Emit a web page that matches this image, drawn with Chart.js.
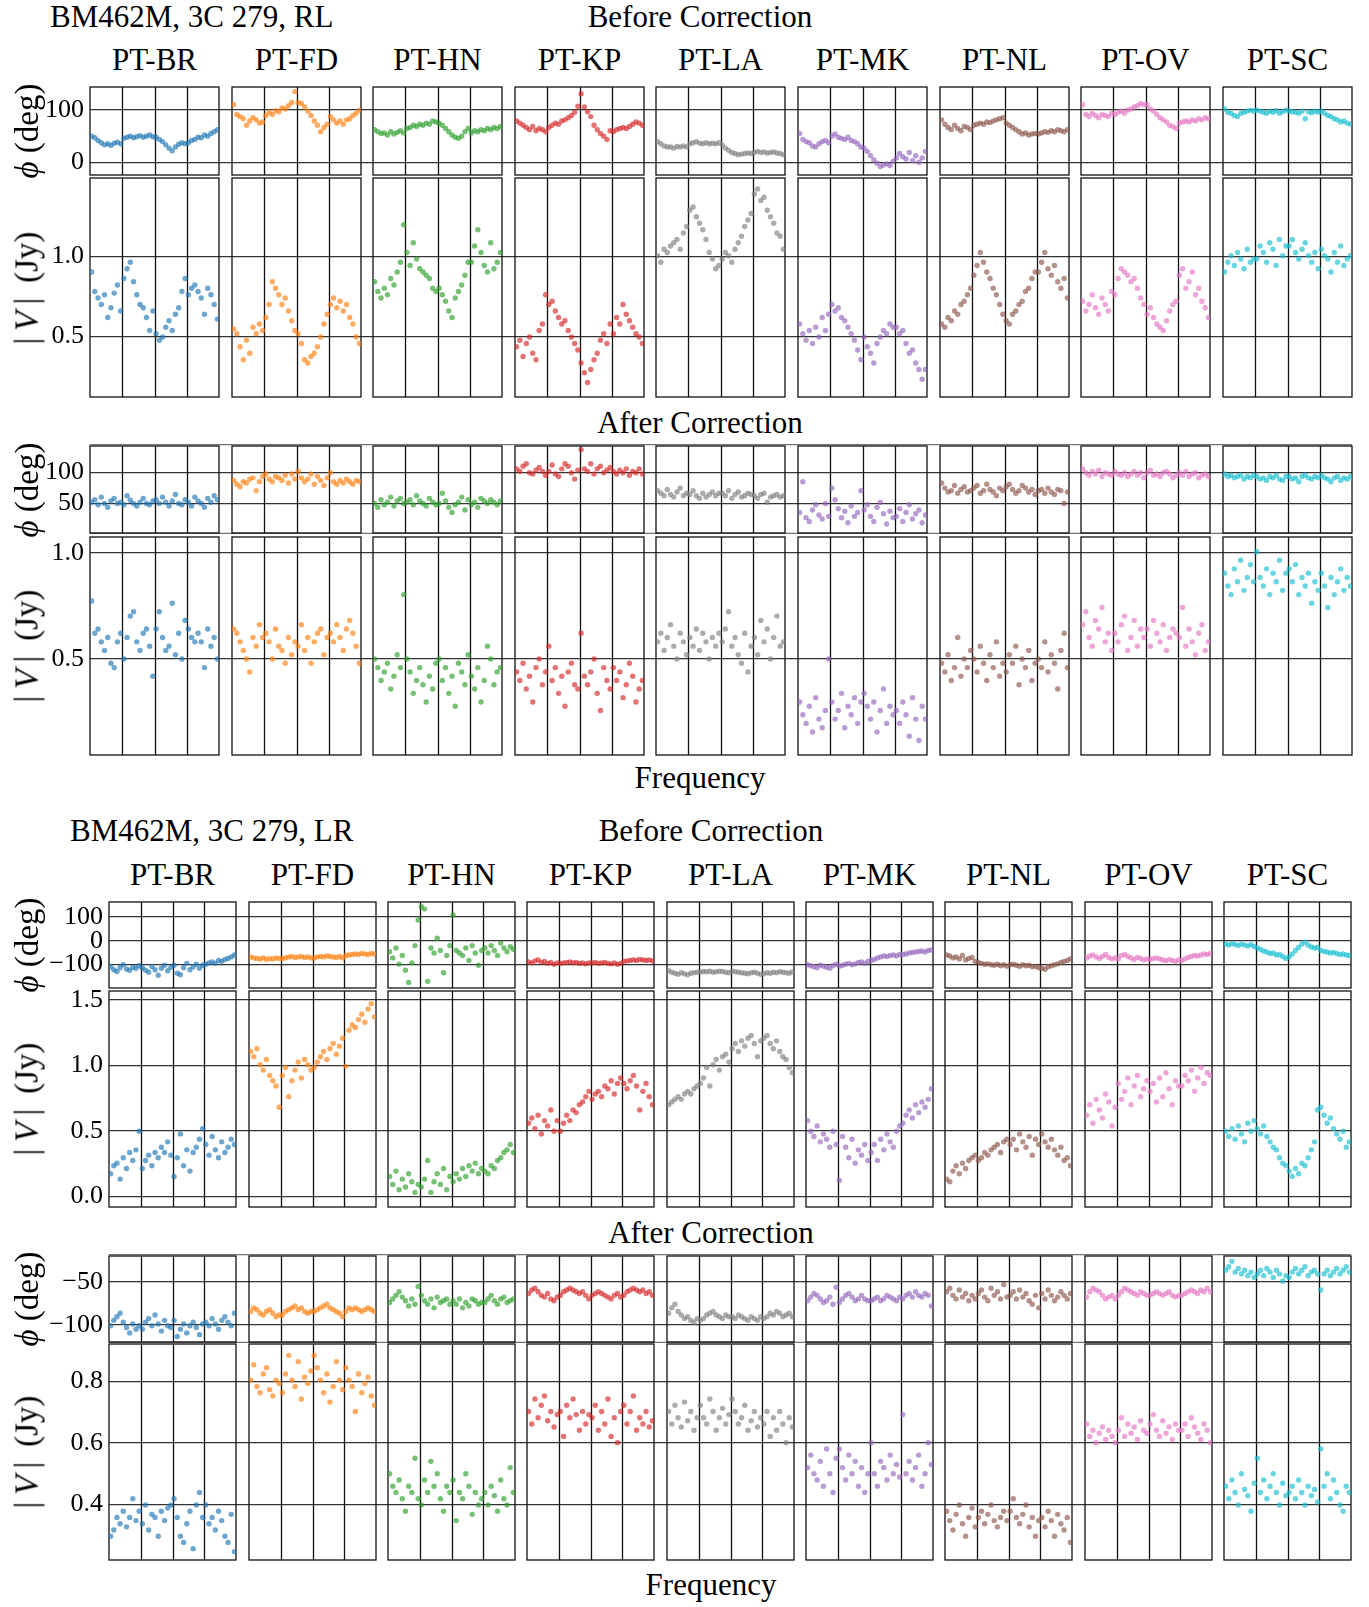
<!DOCTYPE html>
<html lang="en">
<head>
<meta charset="UTF-8">
<title>BM462M, 3C 279 - before and after correction</title>
<style>
  html, body { margin: 0; padding: 0; background: #fff; }
  body { width: 1369px; height: 1607px; position: relative; overflow: hidden;
         font-family: "Liberation Serif", "DejaVu Serif", serif; color: #000; }
  canvas { position: absolute; }
  .txt { position: absolute; font-family: "Liberation Serif", "DejaVu Serif", serif;
         font-size: 31px; line-height: 1; white-space: nowrap; }
  .ylab { position: absolute; font-family: "Liberation Serif", "DejaVu Serif", serif;
          font-size: 33px; line-height: 1; white-space: nowrap;
          transform: translate(-50%, -50%) rotate(-90deg); }
</style>
</head>
<body>
<script src="https://cdn.jsdelivr.net/npm/chart.js"></script>
<script>
const stations = ['PT-BR', 'PT-FD', 'PT-HN', 'PT-KP', 'PT-LA', 'PT-MK', 'PT-NL', 'PT-OV', 'PT-SC'];
const colors = ['rgba(31,119,180,0.65)', 'rgba(255,127,14,0.65)', 'rgba(44,160,44,0.65)',
                'rgba(214,39,40,0.65)', 'rgba(127,127,127,0.65)', 'rgba(148,103,189,0.65)',
                'rgba(140,86,75,0.65)', 'rgba(227,119,194,0.65)', 'rgba(23,190,207,0.65)'];
const ifCount = 4, chanPerIF = 10;

// ---- RL, before correction (one array per station, 4 IFs x 10 channels)
const rlBeforePhase = [
  [50,47,42,38,34,36,33,37,39,36, 46,48,50,47,49,51,48,50,52,49, 48,44,40,34,28,23,30,35,38,36, 38,42,44,48,47,52,50,55,58,62],
  [108,90,86,82,70,78,84,80,74,76, 88,94,90,97,95,102,100,106,112,132, 112,110,104,96,88,78,70,58,66,72, 86,80,74,78,72,80,82,88,92,98],
  [62,58,55,56,52,58,54,57,60,56, 64,66,70,68,72,70,74,72,78,76, 74,70,64,58,52,48,46,50,58,64, 56,60,58,62,60,64,62,66,64,68],
  [78,74,70,66,62,68,60,64,62,58, 66,70,74,72,78,80,84,88,94,105, 128,104,95,86,70,62,55,50,44,60, 58,62,64,66,64,68,72,76,74,70],
  [40,36,32,30,30,28,31,30,32,30, 36,38,40,37,36,38,36,37,36,38, 34,28,24,20,18,16,17,18,19,18, 20,22,20,21,19,20,21,19,18,16],
  [55,44,40,38,32,30,36,40,42,38, 50,54,48,46,44,48,42,40,36,30, 28,22,14,6,0,-6,-3,-1,-4,4, 10,18,12,8,20,5,14,2,10,22],
  [80,72,66,62,70,64,60,68,66,62, 70,72,74,72,76,75,78,80,82,84, 74,70,66,62,58,54,56,52,54,55, 54,56,58,57,60,58,62,60,58,62],
  [108,90,86,92,88,84,90,88,86,92, 90,94,96,92,98,100,104,106,110,108, 108,100,96,90,84,80,76,70,68,64, 74,76,78,76,80,78,82,80,84,82],
  [100,94,92,88,86,92,94,96,98,96, 98,96,94,92,96,94,97,92,95,98, 96,95,94,92,96,82,95,93,96,94, 96,92,88,86,82,80,76,78,74,72]
];
const rlBeforeAmp = [
  [0.90,0.78,0.74,0.70,0.76,0.62,0.68,0.77,0.82,0.66, 0.86,0.92,0.96,0.84,0.76,0.70,0.68,0.62,0.54,0.66, 0.52,0.48,0.50,0.56,0.60,0.54,0.64,0.68,0.78,0.86, 0.76,0.80,0.82,0.78,0.74,0.64,0.80,0.76,0.70,0.61],
  [0.55,0.52,0.44,0.36,0.48,0.40,0.56,0.52,0.58,0.54, 0.62,0.70,0.84,0.80,0.76,0.70,0.74,0.66,0.60,0.54, 0.52,0.46,0.36,0.34,0.38,0.40,0.44,0.50,0.58,0.64, 0.70,0.74,0.68,0.72,0.66,0.70,0.62,0.58,0.50,0.46],
  [0.84,0.78,0.74,0.80,0.76,0.86,0.82,0.90,0.96,1.19, 1.02,0.94,1.08,0.98,0.92,0.90,0.88,0.86,0.80,0.78, 0.80,0.76,0.72,0.66,0.62,0.74,0.78,0.82,0.88,0.96, 0.96,1.06,1.16,1.02,0.94,0.90,1.08,0.92,0.96,1.02],
  [0.44,0.48,0.38,0.46,0.50,0.40,0.36,0.54,0.58,0.76, 0.70,0.72,0.66,0.62,0.58,0.60,0.54,0.50,0.46,0.42, 0.34,0.28,0.22,0.30,0.36,0.40,0.48,0.52,0.46,0.58, 0.52,0.62,0.58,0.70,0.64,0.60,0.56,0.52,0.50,0.46],
  [1.00,0.96,1.04,1.02,1.06,1.08,1.10,1.04,1.14,1.18, 1.28,1.30,1.24,1.20,1.16,1.10,1.02,0.98,0.92,0.94, 0.98,1.02,1.00,0.96,1.04,1.08,1.12,1.18,1.22,1.26, 1.38,1.41,1.34,1.36,1.28,1.24,1.20,1.14,1.12,1.04],
  [0.58,0.52,0.48,0.54,0.46,0.56,0.50,0.62,0.54,0.64, 0.70,0.66,0.68,0.62,0.60,0.56,0.52,0.48,0.42,0.36, 0.50,0.44,0.40,0.34,0.46,0.50,0.54,0.52,0.58,0.56, 0.56,0.52,0.54,0.46,0.40,0.42,0.34,0.30,0.24,0.30],
  [0.58,0.56,0.62,0.60,0.66,0.64,0.70,0.72,0.76,0.80, 0.88,0.94,1.02,0.96,0.90,0.86,0.80,0.76,0.70,0.64, 0.60,0.58,0.64,0.66,0.70,0.72,0.78,0.80,0.86,0.90, 0.90,0.96,1.02,0.92,0.88,0.94,0.84,0.80,0.86,0.74],
  [0.72,0.66,0.70,0.76,0.68,0.64,0.74,0.70,0.66,0.78, 0.76,0.86,0.92,0.90,0.88,0.84,0.86,0.80,0.74,0.70, 0.64,0.68,0.62,0.58,0.56,0.54,0.60,0.66,0.70,0.72, 0.88,0.92,0.80,0.84,0.90,0.76,0.80,0.72,0.68,0.62],
  [0.90,0.96,1.00,0.94,1.02,0.98,0.92,1.04,0.96,0.98, 0.98,1.06,1.02,0.96,1.08,1.04,0.94,1.10,1.00,1.06, 1.06,1.10,1.02,0.98,1.04,1.08,1.00,0.96,1.02,0.92, 1.04,1.00,0.98,0.90,1.02,0.96,1.06,0.94,0.98,1.00]
];

// ---- RL, after correction
const rlAfterPhase = [
  [52,56,48,60,50,44,54,58,50,52, 48,62,55,50,46,52,58,50,48,54, 56,50,60,52,46,54,64,50,48,56, 52,46,60,54,50,44,58,52,62,56],
  [86,80,76,84,82,88,90,70,84,92, 96,88,84,92,90,86,94,82,96,88, 100,90,84,88,96,80,92,86,78,90, 98,84,80,86,82,88,84,80,86,84],
  [50,44,56,48,52,60,46,54,58,50, 52,56,48,62,54,50,46,58,52,48, 50,66,54,44,36,48,52,60,40,56, 48,52,44,58,54,50,56,52,48,54],
  [104,100,108,112,98,96,102,106,100,94, 100,110,96,92,104,112,108,98,88,102, 134,104,100,112,96,104,108,98,102,106, 100,96,102,98,104,94,100,98,104,96],
  [70,66,62,72,64,60,68,74,62,66, 64,70,62,58,66,60,64,68,62,66, 66,62,70,58,64,68,60,62,66,64, 62,58,64,66,52,60,62,64,60,62],
  [36,84,28,22,40,48,32,26,50,30, 74,56,42,28,38,20,46,30,36,70, 40,48,30,22,44,52,34,18,38,28, 30,42,22,36,48,26,34,40,20,32],
  [82,74,68,70,78,66,72,76,68,70, 74,78,66,70,80,72,68,62,74,70, 76,80,72,66,70,78,74,68,72,64, 70,72,66,74,68,64,72,70,50,68],
  [104,98,94,100,96,102,92,98,96,94, 100,96,94,98,92,96,100,94,98,90, 98,102,94,96,92,98,100,96,90,94, 98,94,100,92,96,98,90,94,96,92],
  [96,92,94,90,92,94,88,92,90,94, 92,88,90,86,92,90,94,88,86,92, 92,88,90,84,92,94,90,88,92,90, 94,90,88,84,90,92,86,90,88,92]
];
const rlAfterAmp = [
  [0.77,0.62,0.64,0.58,0.54,0.60,0.48,0.46,0.58,0.62, 0.50,0.60,0.70,0.72,0.58,0.54,0.62,0.64,0.56,0.42, 0.64,0.72,0.60,0.54,0.56,0.76,0.52,0.62,0.50,0.68, 0.64,0.60,0.58,0.62,0.58,0.46,0.64,0.56,0.60,0.50],
  [0.64,0.62,0.58,0.54,0.50,0.44,0.60,0.56,0.66,0.60, 0.62,0.58,0.50,0.64,0.56,0.54,0.48,0.60,0.52,0.58, 0.56,0.66,0.54,0.60,0.48,0.58,0.62,0.64,0.52,0.60, 0.62,0.58,0.66,0.60,0.54,0.64,0.68,0.62,0.56,0.48],
  [0.50,0.46,0.40,0.44,0.48,0.36,0.42,0.52,0.46,0.80, 0.50,0.44,0.34,0.40,0.46,0.38,0.30,0.42,0.36,0.48, 0.50,0.40,0.46,0.34,0.42,0.28,0.48,0.44,0.38,0.52, 0.42,0.36,0.46,0.30,0.40,0.56,0.50,0.38,0.44,0.46],
  [0.44,0.40,0.48,0.36,0.42,0.30,0.46,0.50,0.38,0.44, 0.56,0.40,0.46,0.34,0.42,0.28,0.44,0.48,0.38,0.36, 0.62,0.42,0.38,0.44,0.50,0.34,0.26,0.46,0.40,0.36, 0.46,0.40,0.44,0.32,0.38,0.48,0.42,0.30,0.36,0.40],
  [0.58,0.62,0.54,0.60,0.66,0.56,0.50,0.62,0.58,0.52, 0.60,0.56,0.64,0.54,0.62,0.58,0.50,0.60,0.56,0.62, 0.58,0.64,0.72,0.56,0.60,0.52,0.48,0.62,0.44,0.56, 0.60,0.52,0.68,0.58,0.64,0.50,0.60,0.70,0.56,0.58],
  [0.30,0.24,0.20,0.28,0.16,0.32,0.22,0.18,0.26,0.50, 0.30,0.22,0.26,0.34,0.18,0.28,0.24,0.32,0.20,0.30, 0.34,0.28,0.22,0.30,0.16,0.26,0.36,0.20,0.28,0.24, 0.26,0.20,0.30,0.24,0.14,0.32,0.22,0.12,0.28,0.22],
  [0.48,0.44,0.52,0.40,0.46,0.60,0.42,0.50,0.46,0.54, 0.50,0.44,0.56,0.48,0.40,0.52,0.46,0.58,0.42,0.48, 0.44,0.52,0.48,0.56,0.38,0.50,0.46,0.54,0.40,0.48, 0.50,0.46,0.58,0.44,0.52,0.48,0.36,0.54,0.62,0.46],
  [0.66,0.72,0.60,0.56,0.68,0.64,0.74,0.58,0.62,0.54, 0.62,0.58,0.66,0.70,0.54,0.60,0.68,0.56,0.64,0.60, 0.64,0.56,0.68,0.62,0.58,0.66,0.54,0.60,0.64,0.62, 0.60,0.74,0.56,0.64,0.58,0.52,0.62,0.66,0.54,0.58],
  [0.90,0.84,0.80,0.92,0.86,0.96,0.82,0.88,0.94,0.86, 1.00,0.88,0.84,0.92,0.80,0.90,0.86,0.96,0.82,0.90, 0.92,0.86,0.94,0.80,0.88,0.84,0.90,0.76,0.86,0.82, 0.90,0.84,0.74,0.88,0.80,0.86,0.92,0.82,0.88,0.84]
];

// ---- LR, before correction
const lrBeforePhase = [
  [-105,-118,-125,-110,-98,-115,-120,-108,-112,-102, -110,-120,-128,-105,-118,-140,-112,-100,-122,-108, -100,-132,-138,-110,-92,-118,-106,-96,-112,-100, -96,-90,-86,-92,-80,-84,-76,-72,-66,-58],
  [-66,-70,-72,-74,-70,-76,-72,-74,-70,-72, -72,-70,-66,-64,-68,-66,-64,-68,-66,-70, -70,-66,-64,-66,-62,-64,-66,-68,-64,-70, -60,-58,-56,-54,-56,-52,-54,-56,-52,-54],
  [-45,-70,-30,-95,-60,-120,-170,-90,-20,84, 138,128,-165,-30,-50,10,-40,-130,-60,-20, 104,-40,-50,-60,-30,-80,-20,-50,-100,-40, -30,-50,-20,-40,-60,-10,-30,-45,-25,-35],
  [-86,-90,-82,-78,-88,-84,-92,-88,-96,-90, -92,-90,-88,-86,-90,-88,-92,-90,-94,-90, -90,-88,-92,-90,-88,-92,-94,-90,-96,-92, -84,-82,-80,-78,-80,-76,-78,-80,-78,-82],
  [-122,-128,-132,-136,-130,-134,-138,-132,-130,-128, -128,-125,-126,-124,-128,-126,-124,-125,-128,-130, -124,-126,-128,-130,-132,-134,-130,-128,-132,-136, -134,-130,-132,-128,-130,-126,-128,-130,-132,-126],
  [-98,-102,-106,-110,-100,-104,-108,-112,-102,-96, -104,-100,-96,-92,-98,-94,-88,-86,-92,-84, -80,-76,-70,-66,-62,-64,-60,-58,-62,-56, -56,-54,-50,-48,-46,-44,-42,-46,-40,-38],
  [-58,-62,-70,-66,-74,-60,-78,-72,-68,-84, -88,-92,-96,-94,-98,-100,-96,-102,-98,-104, -98,-96,-100,-104,-98,-102,-100,-106,-104,-110, -112,-116,-106,-102,-98,-94,-88,-84,-80,-74],
  [-70,-62,-58,-66,-72,-64,-56,-68,-74,-70, -74,-60,-56,-64,-70,-76,-68,-72,-78,-74, -76,-72,-70,-74,-78,-82,-76,-80,-84,-78, -80,-74,-68,-64,-60,-62,-58,-54,-56,-52],
  [-14,-18,-12,-16,-20,-14,-18,-22,-16,-24, -30,-36,-42,-46,-52,-50,-58,-56,-64,-72, -66,-54,-40,-28,-14,-6,-18,-26,-30,-28, -40,-44,-46,-50,-48,-52,-56,-54,-58,-60]
];
const lrBeforeAmp = [
  [0.18,0.24,0.26,0.14,0.30,0.22,0.34,0.28,0.36,0.50, 0.22,0.28,0.32,0.24,0.34,0.30,0.38,0.34,0.42,0.32, 0.16,0.30,0.48,0.24,0.36,0.20,0.34,0.38,0.44,0.52, 0.40,0.32,0.46,0.36,0.30,0.42,0.34,0.38,0.44,0.40],
  [1.10,1.06,1.12,1.00,0.96,1.04,0.92,0.88,0.84,0.68, 0.92,0.98,0.76,0.88,0.96,1.02,0.90,1.04,1.00,0.96, 0.98,1.02,1.06,1.10,1.04,1.12,1.16,1.08,1.14,1.20, 0.99,1.26,1.30,1.28,1.34,1.38,1.32,1.42,1.46,1.36],
  [0.16,0.10,0.20,0.06,0.14,0.08,0.18,0.12,0.04,0.10, 0.08,0.14,0.28,0.04,0.12,0.18,0.10,0.22,0.06,0.16, 0.12,0.18,0.14,0.22,0.16,0.24,0.20,0.26,0.18,0.22, 0.20,0.18,0.24,0.22,0.28,0.30,0.34,0.36,0.40,0.34],
  [0.56,0.60,0.52,0.62,0.48,0.58,0.54,0.66,0.50,0.58, 0.50,0.56,0.62,0.58,0.66,0.64,0.70,0.72,0.76,0.80, 0.74,0.78,0.80,0.76,0.84,0.82,0.88,0.78,0.86,0.90, 0.86,0.82,0.88,0.92,0.84,0.66,0.80,0.86,0.76,0.70],
  [0.70,0.72,0.74,0.76,0.74,0.78,0.80,0.78,0.82,0.84, 0.86,0.90,0.98,0.84,1.00,1.04,0.96,1.06,1.08,1.02, 1.12,1.16,1.10,1.18,1.14,1.20,1.22,1.16,1.06,1.18, 1.20,1.22,1.16,1.12,1.18,1.10,1.06,1.04,0.98,0.94],
  [0.58,0.50,0.46,0.54,0.42,0.48,0.44,0.38,0.50,0.40, 0.13,0.46,0.38,0.30,0.44,0.26,0.36,0.32,0.40,0.28, 0.34,0.40,0.28,0.44,0.36,0.48,0.42,0.38,0.50,0.54, 0.56,0.62,0.66,0.60,0.70,0.64,0.72,0.68,0.74,0.82],
  [0.14,0.12,0.20,0.24,0.18,0.26,0.22,0.28,0.30,0.32, 0.28,0.30,0.34,0.32,0.36,0.38,0.40,0.34,0.42,0.44, 0.40,0.44,0.36,0.48,0.42,0.38,0.46,0.32,0.44,0.40, 0.48,0.42,0.38,0.44,0.36,0.32,0.38,0.28,0.30,0.24],
  [0.62,0.70,0.56,0.74,0.66,0.60,0.78,0.72,0.54,0.68, 0.86,0.74,0.80,0.90,0.70,0.84,0.92,0.76,0.82,0.88, 0.80,0.86,0.72,0.90,0.76,0.94,0.82,0.70,0.88,0.84, 0.84,0.92,0.88,0.96,0.80,0.90,0.98,0.86,0.94,0.92],
  [0.50,0.46,0.52,0.44,0.54,0.48,0.42,0.56,0.50,0.58, 0.52,0.48,0.54,0.46,0.42,0.38,0.36,0.30,0.26,0.24, 0.20,0.16,0.22,0.18,0.26,0.24,0.30,0.36,0.42,0.66, 0.68,0.62,0.56,0.60,0.52,0.48,0.44,0.50,0.38,0.42]
];

// ---- LR, after correction
const lrAfterPhase = [
  [-100,-94,-90,-86,-96,-102,-108,-98,-104,-100, -104,-96,-92,-100,-88,-98,-106,-94,-100,-102, -94,-112,-104,-98,-108,-100,-96,-102,-110,-98, -96,-100,-92,-98,-104,-94,-90,-96,-100,-86],
  [-84,-80,-82,-86,-88,-84,-82,-86,-90,-88, -88,-84,-82,-80,-78,-82,-80,-84,-86,-84, -84,-82,-80,-78,-76,-80,-82,-84,-86,-90, -84,-80,-82,-80,-82,-84,-82,-80,-82,-84],
  [-74,-70,-66,-62,-68,-72,-78,-70,-76,-56, -66,-72,-76,-70,-80,-68,-74,-72,-70,-76, -72,-76,-70,-80,-74,-78,-70,-72,-76,-74, -74,-70,-66,-72,-76,-70,-68,-74,-72,-70],
  [-64,-60,-58,-62,-66,-68,-64,-70,-72,-68, -66,-62,-60,-58,-60,-62,-64,-62,-66,-70, -66,-64,-62,-64,-66,-68,-70,-66,-64,-68, -66,-62,-60,-58,-60,-62,-60,-64,-62,-66],
  [-86,-80,-76,-84,-88,-92,-90,-94,-96,-92, -94,-92,-88,-86,-84,-88,-90,-92,-88,-90, -90,-92,-88,-90,-92,-94,-90,-92,-94,-90, -92,-90,-86,-88,-84,-86,-90,-88,-86,-90],
  [-72,-68,-64,-66,-70,-74,-72,-68,-76,-57, -74,-70,-66,-64,-68,-72,-70,-66,-70,-72, -72,-70,-68,-72,-70,-66,-68,-70,-72,-68, -70,-66,-64,-68,-62,-66,-68,-64,-66,-78],
  [-62,-58,-66,-70,-60,-68,-64,-72,-66,-70, -64,-60,-68,-72,-58,-66,-62,-70,-54,-68, -66,-62,-70,-60,-68,-64,-72,-76,-66,-80, -64,-70,-60,-66,-72,-68,-62,-66,-70,-64],
  [-68,-62,-58,-60,-62,-66,-70,-68,-66,-70, -66,-62,-58,-60,-62,-64,-66,-62,-64,-66, -66,-64,-62,-64,-66,-64,-62,-66,-68,-66, -66,-64,-62,-60,-62,-64,-60,-62,-58,-62],
  [-38,-34,-28,-40,-36,-42,-38,-44,-40,-46, -42,-38,-44,-36,-40,-46,-38,-42,-50,-44, -46,-40,-36,-42,-38,-34,-44,-40,-38,-42, -60,-42,-38,-44,-40,-36,-42,-38,-34,-40]
];
const lrAfterAmp = [
  [0.30,0.32,0.36,0.34,0.38,0.33,0.36,0.42,0.35,0.38, 0.34,0.40,0.32,0.37,0.36,0.30,0.38,0.35,0.39,0.40, 0.42,0.36,0.30,0.28,0.34,0.38,0.26,0.40,0.44,0.36, 0.40,0.34,0.36,0.32,0.38,0.35,0.30,0.28,0.37,0.25],
  [0.80,0.85,0.78,0.76,0.82,0.84,0.77,0.75,0.80,0.79, 0.76,0.82,0.88,0.80,0.78,0.86,0.74,0.81,0.79,0.83, 0.88,0.84,0.80,0.76,0.82,0.73,0.78,0.86,0.80,0.77, 0.84,0.80,0.78,0.70,0.82,0.76,0.79,0.81,0.75,0.72],
  [0.50,0.46,0.44,0.48,0.42,0.38,0.46,0.44,0.55,0.42, 0.40,0.48,0.44,0.54,0.46,0.50,0.42,0.38,0.46,0.44, 0.48,0.35,0.44,0.42,0.50,0.46,0.37,0.44,0.40,0.42, 0.44,0.40,0.46,0.43,0.38,0.48,0.42,0.40,0.52,0.44],
  [0.70,0.66,0.74,0.68,0.72,0.75,0.67,0.70,0.65,0.69, 0.70,0.62,0.72,0.68,0.74,0.69,0.64,0.70,0.66,0.69, 0.68,0.72,0.64,0.70,0.66,0.74,0.62,0.68,0.60,0.70, 0.72,0.66,0.70,0.75,0.64,0.68,0.66,0.70,0.65,0.67],
  [0.70,0.66,0.72,0.68,0.65,0.73,0.67,0.70,0.64,0.68, 0.72,0.68,0.66,0.74,0.70,0.64,0.68,0.71,0.66,0.69, 0.74,0.70,0.66,0.68,0.72,0.64,0.67,0.70,0.65,0.68, 0.66,0.70,0.62,0.68,0.64,0.70,0.66,0.60,0.68,0.65],
  [0.52,0.56,0.50,0.48,0.54,0.46,0.58,0.50,0.44,0.55, 0.58,0.52,0.48,0.56,0.50,0.54,0.46,0.52,0.44,0.50, 0.60,0.50,0.46,0.54,0.52,0.48,0.56,0.50,0.53,0.49, 0.69,0.50,0.54,0.48,0.52,0.56,0.46,0.50,0.60,0.53],
  [0.38,0.35,0.32,0.37,0.40,0.34,0.30,0.36,0.39,0.33, 0.36,0.38,0.34,0.37,0.40,0.35,0.33,0.36,0.38,0.35, 0.38,0.42,0.36,0.34,0.37,0.40,0.33,0.36,0.30,0.35, 0.36,0.33,0.38,0.35,0.30,0.37,0.34,0.32,0.36,0.28],
  [0.66,0.62,0.64,0.60,0.63,0.65,0.61,0.64,0.62,0.60, 0.64,0.68,0.62,0.66,0.63,0.65,0.61,0.67,0.64,0.63, 0.66,0.69,0.64,0.62,0.67,0.63,0.65,0.61,0.66,0.64, 0.64,0.66,0.62,0.68,0.65,0.63,0.61,0.66,0.64,0.60],
  [0.46,0.42,0.48,0.44,0.40,0.50,0.45,0.43,0.38,0.47, 0.55,0.44,0.48,0.42,0.46,0.50,0.44,0.40,0.47,0.43, 0.44,0.46,0.42,0.48,0.44,0.40,0.46,0.43,0.45,0.41, 0.58,0.46,0.50,0.42,0.48,0.44,0.40,0.38,0.46,0.44]
];

// tick values per row
const rlBeforePhaseTicks = [0, 100];
const rlBeforeAmpTicks = [0.5, 1.0];
const rlAfterPhaseTicks = [50, 100];
const rlAfterAmpTicks = [0.5, 1.0];
const lrBeforePhaseTicks = [-100, 0, 100];
const lrBeforeAmpTicks = [0.0, 0.5, 1.0, 1.5];
const lrAfterPhaseTicks = [-100, -50];
const lrAfterAmpTicks = [0.4, 0.6, 0.8];

// layout of the two figures (pixels)
const figures = [
  { left: 90, pitch: 141.6, width: 129, titleY: 70, rows: [
    { data: rlBeforePhase, ticks: rlBeforePhaseTicks, dec: 0, top: 87, bottom: 175, min: -21.5, max: 140.5, kind: 'phase' },
    { data: rlBeforeAmp, ticks: rlBeforeAmpTicks, dec: 1, top: 178, bottom: 397, min: 0.131, max: 1.478, kind: 'amp' },
    { data: rlAfterPhase, ticks: rlAfterPhaseTicks, dec: 0, top: 446, bottom: 533, min: 4.05, max: 139.6, kind: 'phase', frameTop: 3.5, frameBottom: 2 },
    { data: rlAfterAmp, ticks: rlAfterAmpTicks, dec: 1, top: 537, bottom: 755, min: 0.0527, max: 1.0685, kind: 'amp' }
  ]},
  { left: 109.4, pitch: 139.35, width: 127, titleY: 885, rows: [
    { data: lrBeforePhase, ticks: lrBeforePhaseTicks, dec: 0, top: 902, bottom: 988, min: -192, max: 156.7, kind: 'phase' },
    { data: lrBeforeAmp, ticks: lrBeforeAmpTicks, dec: 1, top: 991, bottom: 1207, min: -0.070, max: 1.555, kind: 'amp' },
    { data: lrAfterPhase, ticks: lrAfterPhaseTicks, dec: 0, top: 1256, bottom: 1342, min: -118.2, max: -22.0, kind: 'phase', frameTop: 3.5, frameBottom: 2 },
    { data: lrAfterAmp, ticks: lrAfterAmpTicks, dec: 1, top: 1344, bottom: 1560, min: 0.2236, max: 0.9164, kind: 'amp' }
  ]}
];

const headings = [
  ['BM462M, 3C 279, RL', 50, 27, 'left'],
  ['Before Correction', 700, 27, 'center'],
  ['After Correction', 700, 433, 'center'],
  ['Frequency', 700, 788, 'center'],
  ['BM462M, 3C 279, LR', 70, 841, 'left'],
  ['Before Correction', 711, 841, 'center'],
  ['After Correction', 711, 1243, 'center'],
  ['Frequency', 711, 1595, 'center']
];

const FS = 31;
const serif = "'Liberation Serif', 'DejaVu Serif', serif";

function addText(html, x, baseline, align) {
  const d = document.createElement('div');
  d.className = 'txt';
  d.innerHTML = html;
  d.style.left = x + 'px';
  d.style.top = (baseline - 0.8375 * FS) + 'px';
  if (align === 'center') d.style.transform = 'translateX(-50%)';
  document.body.appendChild(d);
}
function addYLabel(html, x, y) {
  const d = document.createElement('div');
  d.className = 'ylab';
  d.innerHTML = html;
  d.style.left = x + 'px';
  d.style.top = y + 'px';
  document.body.appendChild(d);
}
function makeCanvas(left, top, w, h) {
  const c = document.createElement('canvas');
  c.width = w; c.height = h;
  c.style.left = left + 'px'; c.style.top = top + 'px';
  c.style.width = w + 'px'; c.style.height = h + 'px';
  document.body.appendChild(c);
  return c;
}
function fmt(v, dec) {
  return (v < 0 ? '\u2212' : '') + Math.abs(v).toFixed(dec);
}

// frame + IF separators of one panel
const panelFrame = {
  id: 'panelFrame',
  beforeDatasetsDraw(chart) {
    const { ctx, chartArea: a, scales: { x } } = chart;
    ctx.save();
    ctx.strokeStyle = '#111';
    ctx.lineWidth = 1.3;
    ctx.beginPath();
    for (let k = 1; k < ifCount; k++) {
      const px = Math.round(x.getPixelForValue(k * chanPerIF)) + 0.5;
      ctx.moveTo(px, a.top); ctx.lineTo(px, a.bottom);
    }
    ctx.stroke();
    ctx.strokeRect(a.left, a.top, a.right - a.left, a.bottom - a.top);
    ctx.restore();
  }
};
// faint frame of the full row (seen on the "after" phase rows)
const rowFrame = {
  id: 'rowFrame',
  afterDraw(chart, args, opts) {
    if (!opts.show) return;
    const { ctx, chartArea: a } = chart;
    ctx.save();
    ctx.strokeStyle = 'rgba(0,0,0,0.55)';
    ctx.lineWidth = 1.2;
    ctx.beginPath();
    ctx.moveTo(a.left, a.top); ctx.lineTo(a.right, a.top);
    ctx.moveTo(a.left, a.bottom); ctx.lineTo(a.right, a.bottom);
    ctx.stroke();
    ctx.restore();
  }
};

Chart.defaults.font.family = serif;

const baseOpts = {
  responsive: false,
  animation: false,
  events: [],
  plugins: { legend: { display: false }, tooltip: { enabled: false } }
};

function backgroundRow(fig, row) {
  const x0 = Math.round(fig.left);
  const x1 = Math.round(fig.left + (stations.length - 1) * fig.pitch + fig.width);
  const ft = row.frameTop || 0, fb = row.frameBottom || 0;
  const per = (row.max - row.min) / (row.bottom - row.top);
  const top = row.top - ft, bottom = row.bottom + fb;
  const labelW = 80, pad = 20;
  const cv = makeCanvas(x0 - labelW, top - pad, x1 - x0 + labelW, bottom - top + 2 * pad);
  new Chart(cv, {
    type: 'scatter',
    data: { datasets: [] },
    options: Object.assign({}, baseOpts, {
      layout: { padding: { top: pad, bottom: pad, left: 0, right: 0 } },
      plugins: Object.assign({}, baseOpts.plugins, { rowFrame: { show: ft > 0 } }),
      scales: {
        x: { display: false, min: 0, max: 1 },
        y: {
          min: row.min - fb * per,
          max: row.max + ft * per,
          afterFit: s => { s.width = labelW; },
          afterBuildTicks: s => { s.ticks = row.ticks.map(v => ({ value: v })); },
          ticks: { padding: 6, color: '#000', font: { family: serif, size: 26 },
                   callback: v => fmt(v, row.dec) },
          grid: { drawTicks: false, color: 'rgba(0,0,0,0.8)', lineWidth: 1.2 },
          border: { display: false }
        }
      }
    }),
    plugins: [rowFrame]
  });
}

function panel(fig, row, i) {
  const m = 4;
  const left = Math.round(fig.left + i * fig.pitch);
  const w = fig.width, h = row.bottom - row.top;
  const cv = makeCanvas(left - m, row.top - m, w + 2 * m, h + 2 * m);
  new Chart(cv, {
    type: 'scatter',
    data: { datasets: [{
      data: row.data[i].map((v, k) => ({ x: k + 0.5, y: v })),
      backgroundColor: colors[i],
      borderWidth: 0,
      pointRadius: 2.7
    }]},
    options: Object.assign({}, baseOpts, {
      layout: { padding: m },
      scales: {
        x: { display: false, min: 0, max: ifCount * chanPerIF },
        y: { display: false, min: row.min, max: row.max }
      }
    }),
    plugins: [panelFrame]
  });
}

headings.forEach(h => addText(h[0], h[1], h[2], h[3]));
figures.forEach(fig => {
  stations.forEach((s, i) => addText(s, Math.round(fig.left + i * fig.pitch) + fig.width / 2, fig.titleY, 'center'));
  fig.rows.forEach(row => {
    backgroundRow(fig, row);
    for (let i = 0; i < stations.length; i++) panel(fig, row, i);
    const label = row.kind === 'phase'
      ? '<i>\u03d5</i> (deg)'
      : '|\u2009<i>V</i>\u2009|\u00a0\u2009(Jy)';
    addYLabel(label, 27, (row.top + row.bottom) / 2);
  });
});
</script>
</body>
</html>
